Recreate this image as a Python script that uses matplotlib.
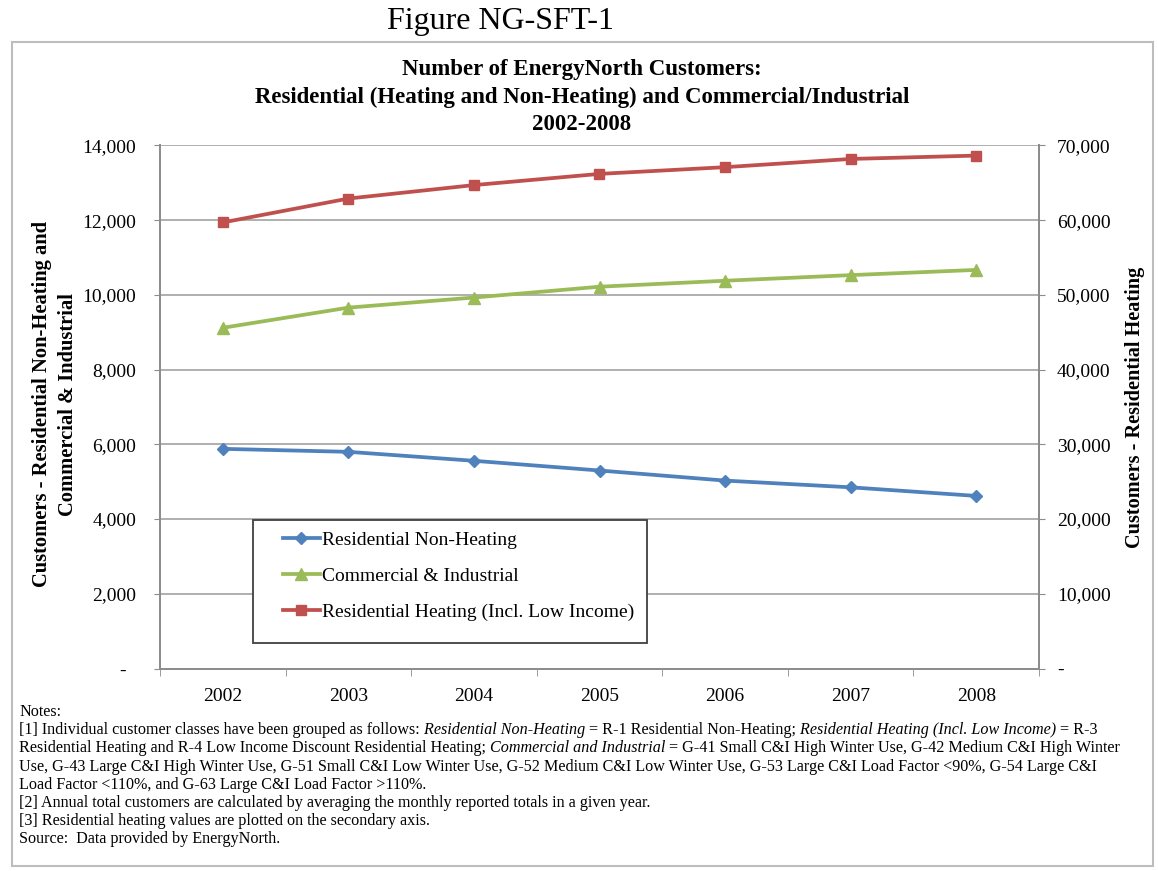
import matplotlib
matplotlib.use("Agg")
import matplotlib.pyplot as plt
from matplotlib.patches import Rectangle
from matplotlib.ticker import FuncFormatter
import numpy as np

years = ['2002', '2003', '2004', '2005', '2006', '2007', '2008']
res_non_heating = [5880, 5800, 5560, 5300, 5030, 4850, 4620]
comm_industrial = [9120, 9660, 9930, 10220, 10380, 10530, 10670]
res_heating = [59700, 62900, 64700, 66200, 67100, 68200, 68650]

left_ticks = [0, 2000, 4000, 6000, 8000, 10000, 12000, 14000]
right_ticks = [0, 10000, 20000, 30000, 40000, 50000, 60000, 70000]

series_labels = ['Residential Non-Heating', 'Commercial & Industrial',
                 'Residential Heating (Incl. Low Income)']

fig_title = 'Figure NG-SFT-1'
chart_title = ['Number of EnergyNorth Customers:',
               'Residential (Heating and Non-Heating) and Commercial/Industrial',
               '2002-2008']
left_label = ['Customers - Residential Non-Heating and', 'Commercial & Industrial']
right_label = 'Customers - Residential Heating'

# (text, italic) pieces per notes line
notes = [
    [('Notes:', False)],
    [('[1] Individual customer classes have been grouped as follows:', False),
     (' Residential Non-Heating', True),
     (' = R-1 Residential Non-Heating;', False),
     (' Residential Heating (Incl. Low Income)', True),
     (' = R-3', False)],
    [('Residential Heating and R-4 Low Income Discount Residential Heating;', False),
     (' Commercial and Industrial', True),
     (' = G-41 Small C&I High Winter Use, G-42 Medium C&I High Winter', False)],
    [('Use, G-43 Large C&I High Winter Use, G-51 Small C&I Low Winter Use, G-52 Medium C&I '
      'Low Winter Use, G-53 Large C&I Load Factor <90%, G-54 Large C&I', False)],
    [('Load Factor <110%, and G-63 Large C&I Load Factor >110%.', False)],
    [('[2] Annual total customers are calculated by averaging the monthly reported totals in a given year.', False)],
    [('[3] Residential heating values are plotted on the secondary axis.', False)],
    [('Source:  Data provided by EnergyNorth.', False)],
]

BLUE = '#4F81BD'
GREEN = '#9BBB59'
RED = '#C0504D'
GRID = '#a9a9a9'
AXIS = '#8c8c8c'

plt.rcParams['font.family'] = 'Liberation Serif'

W, H = 1158, 871
fig = plt.figure(figsize=(W / 100, H / 100), dpi=100)


def fx(x):
    return x / W


def fy(y):
    return 1 - y / H


# outer chart frame
fig.add_artist(Rectangle((fx(12), fy(866)), fx(1153) - fx(12), fy(42) - fy(866),
                         transform=fig.transFigure, fill=False,
                         edgecolor='#bdbdbd', lw=1.5))

ax = fig.add_axes([fx(160), fy(668.5), fx(1039) - fx(160), fy(145.5) - fy(668.5)])
ax2 = ax.twinx()

x = np.arange(len(years))
l1, = ax.plot(x, res_non_heating, color=BLUE, lw=2.7, marker='D', ms=6.5,
              label=series_labels[0])
l2, = ax.plot(x, comm_industrial, color=GREEN, lw=2.7, marker='^', ms=8,
              label=series_labels[1])
l3, = ax2.plot(x, res_heating, color=RED, lw=2.7, marker='s', ms=7.5,
               label=series_labels[2])

ax.set_xlim(-0.5, len(years) - 0.5)
ax.set_ylim(left_ticks[0], left_ticks[-1])
ax2.set_ylim(right_ticks[0], right_ticks[-1])
ax.set_yticks(left_ticks)
ax2.set_yticks(right_ticks)


def acct_left(v, pos):
    return '-  ' if v == 0 else '{:,.0f}'.format(v)


def acct_right(v, pos):
    return '-' if v == 0 else '{:,.0f}'.format(v)


ax.yaxis.set_major_formatter(FuncFormatter(acct_left))
ax2.yaxis.set_major_formatter(FuncFormatter(acct_right))

ax.set_xticks(x)
ax.set_xticklabels(years)
ax.set_xticks(np.arange(len(years) + 1) - 0.5, minor=True)

ax.yaxis.grid(True, color=GRID, lw=1.3)
ax.set_axisbelow(True)

for a in (ax, ax2):
    a.spines['top'].set_visible(False)
    for s in ('left', 'right', 'bottom'):
        a.spines[s].set_color(AXIS)
        a.spines[s].set_linewidth(1.3)

ax.tick_params(axis='y', direction='out', length=4, color=AXIS, pad=13, labelsize=14)
ax2.tick_params(axis='y', direction='out', length=4, color=AXIS, pad=9, labelsize=14)
ax.tick_params(axis='x', which='major', length=0, pad=14, labelsize=14)
ax.tick_params(axis='x', which='minor', direction='out', length=5, color=AXIS)

# legend box
ax2.add_patch(Rectangle((0.1055, 0.0488), 0.4482, 0.2352, transform=ax2.transAxes,
                        facecolor='white', edgecolor='#404040', lw=1.3, zorder=4))
leg = ax2.legend(handles=[l1, l2, l3], loc='upper left', bbox_to_anchor=(0.1399, 0.262),
                 frameon=False, fontsize=14, borderpad=0, borderaxespad=0,
                 handlelength=1.9, handletextpad=0.1, labelspacing=0.95)
leg.set_zorder(5)

# titles
fig.text(fx(500), fy(22), fig_title, ha='center', va='center', fontsize=23)
for yy, line in zip([70, 97, 125], chart_title):
    fig.text(fx(582), fy(yy), line, ha='center', va='center', fontsize=16.5,
             fontweight='bold')

for xx, line in zip([42, 68], left_label):
    fig.text(fx(xx), fy(404), line, ha='center', va='center', rotation=90,
             fontsize=14.8, fontweight='bold')
fig.text(fx(1135), fy(407), right_label, ha='center', va='center', rotation=90,
         fontsize=14.6, fontweight='bold')


def note_line(y, parts, size=11.6):
    prev = None
    for txt, italic in parts:
        style = 'italic' if italic else 'normal'
        if prev is None:
            prev = ax.annotate(txt, xy=(19, H - y), xycoords='figure pixels',
                               va='baseline', ha='left', fontsize=size,
                               fontstyle=style, annotation_clip=False)
        else:
            prev = ax.annotate(txt, xy=(1, 0), xycoords=prev, va='bottom',
                               ha='left', fontsize=size, fontstyle=style,
                               annotation_clip=False)


for i, parts in enumerate(notes):
    note_line(716 + i * 18.2, parts)

fig.savefig('out.png', dpi=100)
